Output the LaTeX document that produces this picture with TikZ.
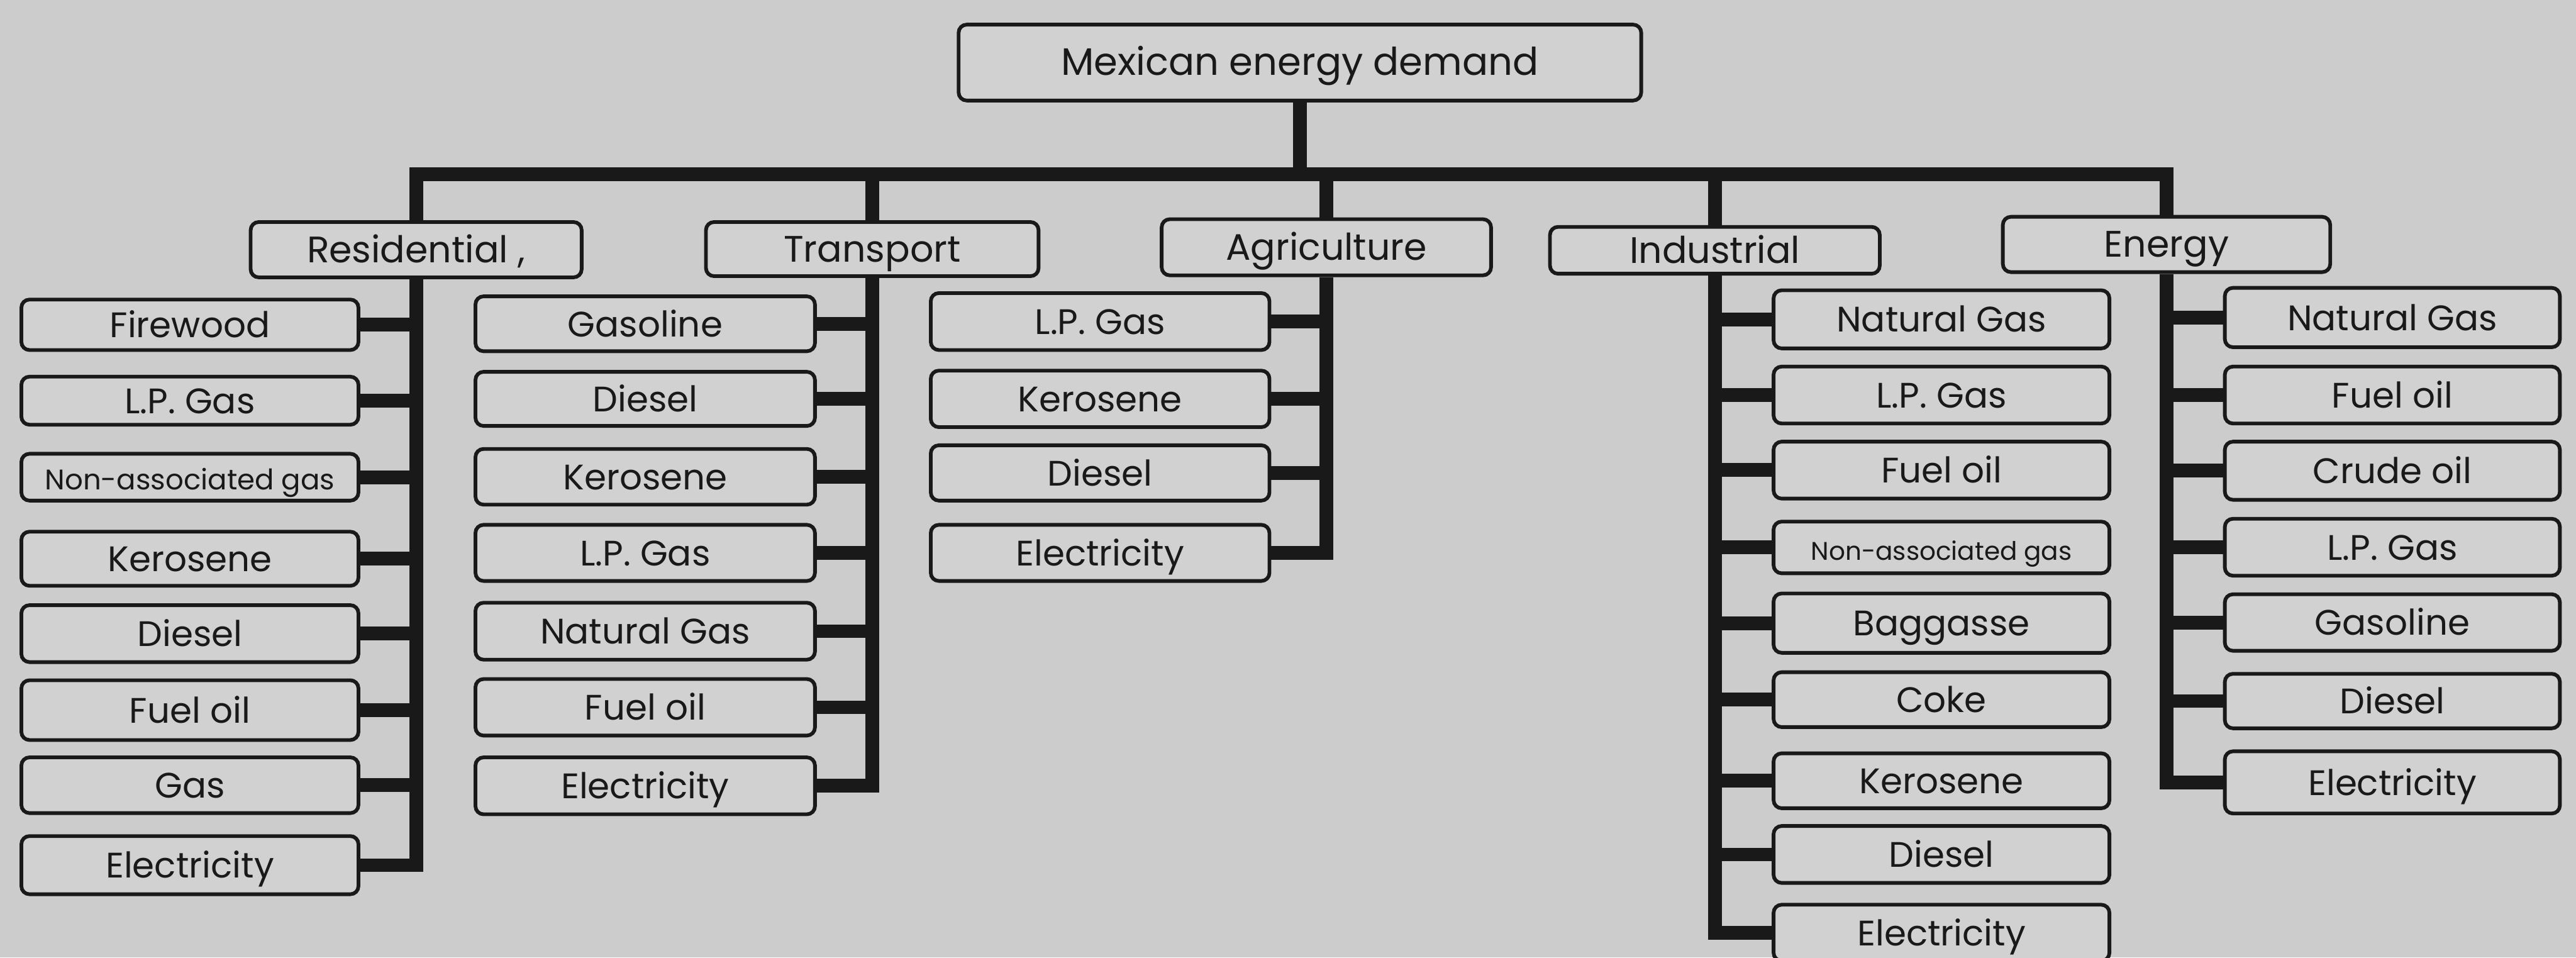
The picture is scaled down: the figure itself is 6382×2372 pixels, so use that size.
\documentclass[tikz,border=0pt]{standalone}
\usepackage{fontspec}
\setmainfont{Poppins}
\definecolor{bg}{gray}{0.80}
\definecolor{boxfill}{gray}{0.82}
\definecolor{ink}{gray}{0.10}
\tikzset{
  item/.style={draw=ink, fill=boxfill, rounded corners=0.1cm, line width=1.3pt,
    inner sep=0pt, text=ink, text height=1.0em, text depth=0.1em,
    font=\fontsize{12.5}{14}\selectfont},
  small/.style={font=\fontsize{10}{12}\selectfont},
  tiny/.style={font=\fontsize{9}{11}\selectfont},
  big/.style={font=\fontsize{13.5}{15}\selectfont},
  cat/.style={font=\fontsize{13}{15}\selectfont},
  conn/.style={draw=ink, line width=0.17cm, line join=miter},
}
\newcommand{\mkbox}[7][]{%
  \pgfmathsetmacro\bxcx{(#3+#5)/2}%
  \pgfmathsetmacro\bxcy{(#4+#6)/2}%
  \pgfmathsetmacro\bxw{(#5-#3)*0.005-0.05}%
  \pgfmathsetmacro\bxh{(#6-#4)*0.005-0.05}%
  \node[item, minimum width=\bxw cm, minimum height=\bxh cm, #1] (#2) at (\bxcx,\bxcy) {#7};%
}
\begin{document}
\begin{tikzpicture}[x=0.005cm, y=-0.005cm]
\fill[bg] (0,0) rectangle (6382,2372);
\useasboundingbox (0,0) rectangle (6382,2372);

% root and categories
\mkbox[big]{top}{2370}{56}{4071}{254}{Mexican energy demand}
\mkbox[cat]{res}{616}{545}{1446}{692}{Residential ,}
\mkbox[cat]{tra}{1744}{545}{2578}{689}{Transport}
\mkbox[cat]{agr}{2873}{538}{3699}{687}{Agriculture}
\mkbox[cat]{ind}{3835}{557}{4662}{683}{Industrial}
\mkbox[cat]{ene}{4957}{532}{5778}{679}{Energy}

% residential
\mkbox{r1}{48}{737}{893}{872}{Firewood}
\mkbox{r2}{48}{928}{893}{1057}{L.P. Gas}
\mkbox[small]{r3}{48}{1119}{893}{1245}{Non-associated gas}
\mkbox{r4}{48}{1312}{893}{1456}{Kerosene}
\mkbox{r5}{48}{1494}{893}{1645}{Diesel}
\mkbox{r6}{48}{1680}{893}{1838}{Fuel oil}
\mkbox{r7}{48}{1871}{893}{2019}{Gas}
\mkbox{r8}{48}{2066}{893}{2220}{Electricity}

% transport
\mkbox{t1}{1173}{729}{2024}{875}{Gasoline}
\mkbox{t2}{1173}{916}{2024}{1060}{Diesel}
\mkbox{t3}{1173}{1107}{2024}{1255}{Kerosene}
\mkbox{t4}{1173}{1295}{2024}{1444}{L.P. Gas}
\mkbox{t5}{1173}{1488}{2024}{1639}{Natural Gas}
\mkbox{t6}{1173}{1677}{2024}{1827}{Fuel oil}
\mkbox{t7}{1173}{1871}{2024}{2022}{Electricity}

% agriculture
\mkbox{a1}{2301}{721}{3150}{872}{L.P. Gas}
\mkbox{a2}{2301}{913}{3150}{1063}{Kerosene}
\mkbox{a3}{2301}{1098}{3150}{1245}{Diesel}
\mkbox{a4}{2301}{1295}{3150}{1444}{Electricity}

% industrial
\mkbox{i1}{4389}{714}{5231}{868}{Natural Gas}
\mkbox{i2}{4389}{903}{5231}{1054}{L.P. Gas}
\mkbox{i3}{4389}{1089}{5231}{1240}{Fuel oil}
\mkbox[tiny]{i4}{4389}{1287}{5231}{1425}{Non-associated gas}
\mkbox{i5}{4389}{1465}{5231}{1622}{Baggasse}
\mkbox{i6}{4389}{1660}{5231}{1806}{Coke}
\mkbox{i7}{4389}{1861}{5231}{2007}{Kerosene}
\mkbox{i8}{4389}{2041}{5231}{2192}{Diesel}
\mkbox{i9}{4389}{2236}{5231}{2385}{Electricity}

% energy
\mkbox{e1}{5507}{708}{6347}{865}{Natural Gas}
\mkbox{e2}{5507}{903}{6347}{1054}{Fuel oil}
\mkbox{e3}{5507}{1089}{6347}{1243}{Crude oil}
\mkbox{e4}{5507}{1280}{6347}{1431}{L.P. Gas}
\mkbox{e5}{5507}{1467}{6347}{1617}{Gasoline}
\mkbox{e6}{5507}{1664}{6347}{1809}{Diesel}
\mkbox{e7}{5507}{1856}{6347}{2020}{Electricity}

\coordinate (bus) at (3226,432);

% root stem and bus
\draw[conn] (top.south) -- (top.south |- bus);
\draw[conn] (res.north) -- (res.north |- bus) -- (ene.north |- bus) -- (ene.north);
\draw[conn] (tra.north |- bus) -- (tra.north);
\draw[conn] (agr.north |- bus) -- (agr.north);
\draw[conn] (ind.north |- bus) -- (ind.north);

% trunks with elbows
\draw[conn] (res.south) -- (res.south |- r8.east) -- (r8.east);
\draw[conn] (tra.south) -- (tra.south |- t7.east) -- (t7.east);
\draw[conn] (agr.south) -- (agr.south |- a4.east) -- (a4.east);
\draw[conn] (ind.south) -- (ind.south |- i9.west) -- (i9.west);
\draw[conn] (ene.south) -- (ene.south |- e7.west) -- (e7.west);

% stubs
\foreach \n in {r1,r2,r3,r4,r5,r6,r7} \draw[conn] (\n.east) -- (\n.east -| res.south);
\foreach \n in {t1,t2,t3,t4,t5,t6} \draw[conn] (\n.east) -- (\n.east -| tra.south);
\foreach \n in {a1,a2,a3} \draw[conn] (\n.east) -- (\n.east -| agr.south);
\foreach \n in {i1,i2,i3,i4,i5,i6,i7,i8} \draw[conn] (\n.west) -- (\n.west -| ind.south);
\foreach \n in {e1,e2,e3,e4,e5,e6} \draw[conn] (\n.west) -- (\n.west -| ene.south);
\end{tikzpicture}
\end{document}
